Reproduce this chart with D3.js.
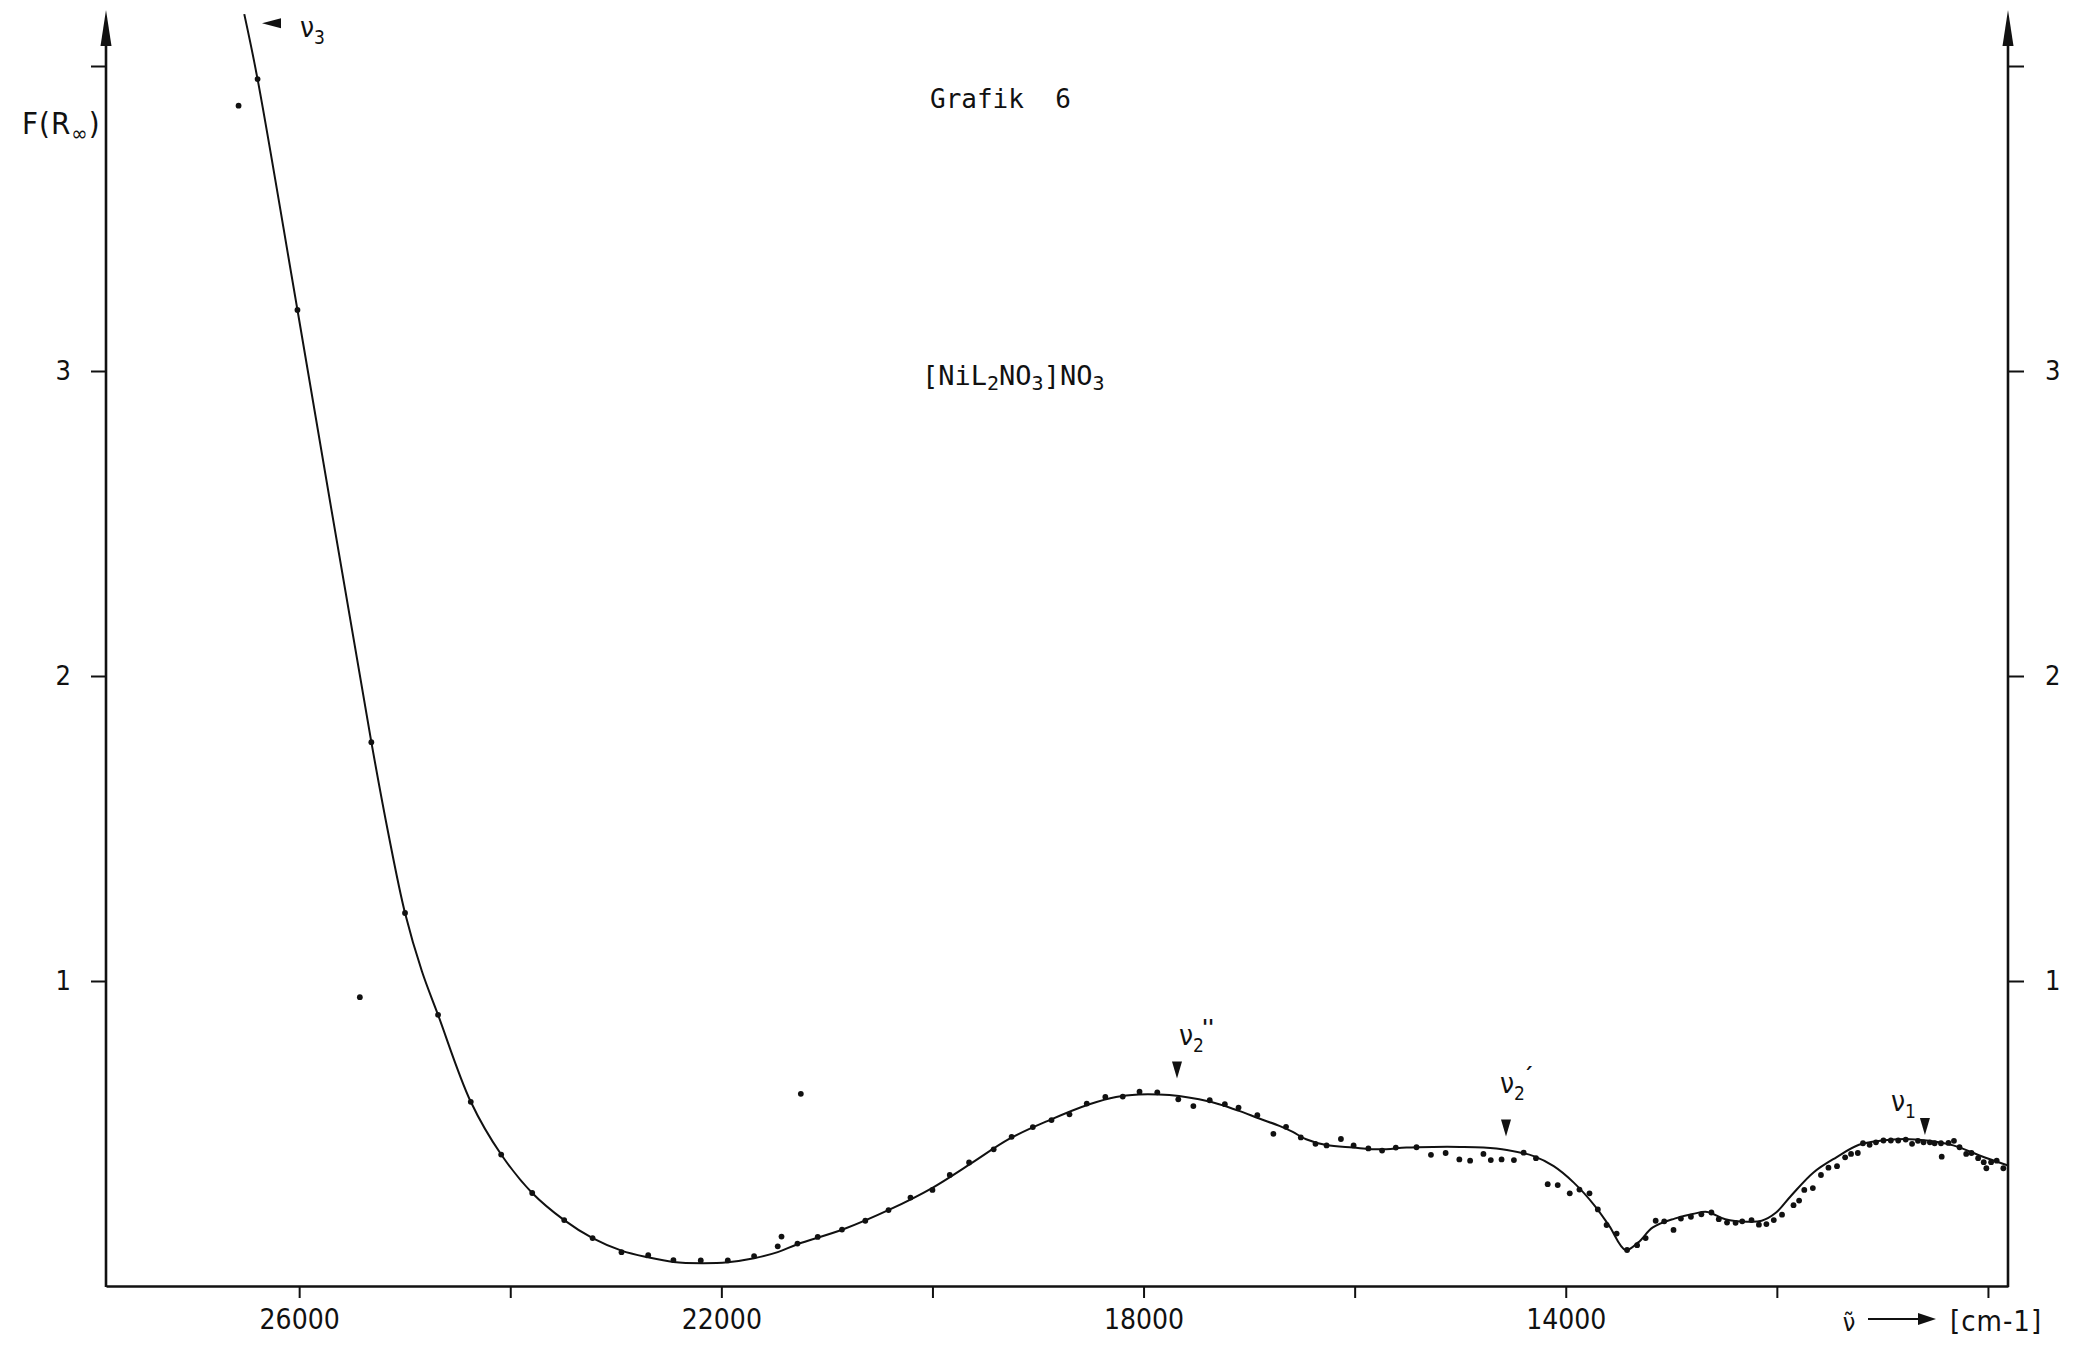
<!DOCTYPE html>
<html>
<head>
<meta charset="utf-8">
<script src="https://cdn.jsdelivr.net/npm/d3@7"></script>
<style>
  body { margin: 0; background: #fff; }
  svg { display: block; background: #fff; }
  .tick text { font-family: "DejaVu Sans Condensed", "DejaVu Sans", sans-serif; font-stretch: condensed; fill: #111; }
  .mono { font-family: "DejaVu Sans Mono", "Liberation Mono", monospace; white-space: pre; fill: #111; }
  .lbl { font-family: "DejaVu Sans Condensed", "DejaVu Sans", sans-serif; font-stretch: condensed; fill: #111; }
</style>
</head>
<body>
<svg id="grafik" width="2074" height="1346"></svg>
<script>
// drawn curve: wavenumber [cm-1] and F(R∞)
const curveWave = [26520, 26394, 26016, 25316, 25157, 24997, 24837, 24684, 24374, 24086,
  23792, 23489, 23220, 22946, 22693, 22454, 22185, 21939, 21690, 21466,
  21279, 20844, 20403, 20000, 19647, 19269, 18891, 18513, 18261, 18045,
  17855, 17664, 17474, 17284, 17094, 16904, 16713, 16586, 16460, 16269,
  16016, 15762, 15509, 15255, 15001, 14780, 14558, 14304, 14114, 13924,
  13725, 13588, 13433, 13313, 13175, 12969, 12797, 12660, 12488, 12282,
  12144, 12007, 11865, 11650, 11436, 11222, 11008, 10793, 10579, 10329,
  10079, 9810];
const curveF = [4.17, 3.957, 3.2, 1.783, 1.487, 1.223, 1.032, 0.889, 0.604, 0.431,
  0.305, 0.216, 0.157, 0.116, 0.094, 0.079, 0.075, 0.078, 0.091, 0.111,
  0.137, 0.186, 0.251, 0.322, 0.399, 0.483, 0.544, 0.596, 0.62, 0.628,
  0.628, 0.623, 0.612, 0.596, 0.574, 0.549, 0.525, 0.505, 0.481, 0.462,
  0.454, 0.448, 0.454, 0.456, 0.456, 0.454, 0.446, 0.426, 0.393, 0.339,
  0.263, 0.197, 0.118, 0.143, 0.192, 0.221, 0.236, 0.243, 0.219, 0.211,
  0.214, 0.241, 0.296, 0.373, 0.422, 0.463, 0.477, 0.482, 0.477, 0.461,
  0.428, 0.395];

// measured points
const pointWave = [26574, 26394, 26016, 25425, 25316, 24997, 24684, 24374, 24086, 23792,
  23489, 23220, 22946, 22693, 22454, 22195, 21939, 21690, 21466, 21430,
  21247, 21279, 21087, 20857, 20636, 20416, 20208, 20000, 19836, 19653,
  19420, 19250, 19049, 18872, 18702, 18538, 18362, 18197, 18038, 17870,
  17671, 17528, 17373, 17230, 17100, 16922, 16770, 16650, 16510, 16371,
  16266, 16130, 16010, 15870, 15740, 15610, 15414, 15277, 15138, 15008,
  14906, 14780, 14710, 14608, 14491, 14399, 14282, 14171, 14076, 13962,
  13870, 13775, 13696, 13613, 13518, 13419, 13324, 13243, 13148, 13067,
  12979, 12909, 12814, 12715, 12620, 12550, 12472, 12391, 12328, 12240,
  12170, 12099, 12029, 11951, 11842, 11789, 11740, 11659, 11582, 11511,
  11430, 11353, 11297, 11233, 11184, 11121, 11061, 10990, 10920, 10850,
  10779, 10719, 10663, 10610, 10550, 10505, 10445, 10438, 10374, 10322,
  10269, 10206, 10156, 10093, 10040, 10015, 9970, 9917, 9854];
const pointF = [3.87, 3.957, 3.2, 0.947, 1.783, 1.223, 0.889, 0.604, 0.431, 0.305,
  0.216, 0.157, 0.111, 0.101, 0.085, 0.084, 0.084, 0.098, 0.13, 0.162,
  0.63, 0.139, 0.161, 0.185, 0.214, 0.249, 0.29, 0.315, 0.364, 0.405,
  0.448, 0.489, 0.521, 0.544, 0.563, 0.598, 0.62, 0.621, 0.637, 0.635,
  0.612, 0.59, 0.609, 0.596, 0.585, 0.56, 0.499, 0.522, 0.487, 0.466,
  0.461, 0.482, 0.461, 0.451, 0.444, 0.454, 0.455, 0.43, 0.436, 0.415,
  0.411, 0.433, 0.413, 0.415, 0.413, 0.437, 0.419, 0.334, 0.331, 0.304,
  0.316, 0.304, 0.251, 0.2, 0.172, 0.118, 0.134, 0.157, 0.214, 0.212,
  0.184, 0.221, 0.227, 0.235, 0.241, 0.219, 0.208, 0.207, 0.212, 0.216,
  0.201, 0.203, 0.216, 0.234, 0.265, 0.28, 0.315, 0.321, 0.364, 0.388,
  0.393, 0.422, 0.433, 0.436, 0.468, 0.463, 0.471, 0.477, 0.477, 0.477,
  0.48, 0.466, 0.476, 0.471, 0.471, 0.468, 0.468, 0.424, 0.469, 0.476,
  0.455, 0.433, 0.436, 0.419, 0.406, 0.386, 0.406, 0.411, 0.386];

// ticks
const xTicks = [26000, 24000, 22000, 20000, 18000, 16000, 14000, 12000, 10000];
const xLabels = [26000, 22000, 18000, 14000];
const yTicks = [1, 2, 3, 4];
const yLabels = [1, 2, 3];

// band markers (arrow tip at wave / F)
const bandSub = ['3', '2', '2', '1'];
const bandMark = ['', "''", '\u00b4', ''];
const bandWave = [26352, 17683, 14566, 10597];
const bandF = [4.14, 0.68, 0.49, 0.495];

const svg = d3.select('svg#grafik');

const xLeft = 106, xRight = 2008, yBase = 1286, yTop = 66;

const x = d3.scaleLinear().domain([27830, 9810]).range([xLeft, xRight]);
const y = d3.scaleLinear().domain([0, 4]).range([yBase, yTop]);

const AXIS_W = 2.6;

// bottom axis
const gx = svg.append('g')
  .attr('transform', `translate(0, ${yBase})`)
  .call(d3.axisBottom(x).tickValues(xTicks).tickSize(12).tickSizeOuter(0).tickPadding(11)
    .tickFormat(d => xLabels.includes(d) ? d : ''));
gx.selectAll('text').attr('font-size', 28);

// left axis
const gl = svg.append('g')
  .attr('transform', `translate(${xLeft}, 0)`)
  .call(d3.axisLeft(y).tickValues(yTicks).tickSize(15).tickSizeOuter(0).tickPadding(20)
    .tickFormat(d => yLabels.includes(d) ? d : ''));
gl.selectAll('text').attr('font-size', 27);

// right axis
const gr = svg.append('g')
  .attr('transform', `translate(${xRight}, 0)`)
  .call(d3.axisRight(y).tickValues(yTicks).tickSize(16).tickSizeOuter(0).tickPadding(21)
    .tickFormat(d => yLabels.includes(d) ? d : ''));
gr.selectAll('text').attr('font-size', 27);

[gl, gr].forEach(g => g.select('.domain').remove());
[gx, gl, gr].forEach(g => {
  g.select('.domain').attr('stroke', '#111').attr('stroke-width', AXIS_W);
  g.selectAll('.tick line').attr('stroke', '#111').attr('stroke-width', 2);
});

// vertical axes with arrow heads
[xLeft, xRight].forEach(ax => {
  svg.append('line')
    .attr('x1', ax).attr('x2', ax)
    .attr('y1', yBase + 1).attr('y2', 40)
    .attr('stroke', '#111').attr('stroke-width', AXIS_W);
  svg.append('path')
    .attr('d', `M${ax},10 L${ax - 5.5},46 L${ax + 5.5},46 Z`)
    .attr('fill', '#111');
});

// curve
const line = d3.line()
  .x((d, i) => x(curveWave[i]))
  .y((d, i) => y(curveF[i]))
  .curve(d3.curveCatmullRom.alpha(0.5));

svg.append('path')
  .datum(curveWave)
  .attr('d', line)
  .attr('fill', 'none')
  .attr('stroke', '#111')
  .attr('stroke-width', 2);

// points
svg.append('g')
  .selectAll('circle')
  .data(pointWave)
  .join('circle')
  .attr('cx', (d, i) => x(pointWave[i]))
  .attr('cy', (d, i) => y(pointF[i]))
  .attr('r', 2.9)
  .attr('fill', '#111');

// band markers
const labelShift = [
  { dx: 38, dy: 14 },
  { dx: 2, dy: -34 },
  { dx: -6, dy: -44 },
  { dx: -34, dy: -24 }
];
bandWave.forEach((w, i) => {
  const px = x(w), py = y(bandF[i]);
  if (i === 0) {
    svg.append('path')
      .attr('d', `M${px},${py} L${px + 19},${py - 5} L${px + 19},${py + 5} Z`)
      .attr('fill', '#111');
  } else {
    svg.append('path')
      .attr('d', `M${px},${py} L${px - 5},${py - 17} L${px + 5},${py - 17} Z`)
      .attr('fill', '#111');
  }
  const t = svg.append('text')
    .attr('class', 'lbl')
    .attr('x', px + labelShift[i].dx)
    .attr('y', py + labelShift[i].dy)
    .attr('font-size', 28);
  t.append('tspan').text('\u03bd');
  t.append('tspan').attr('dy', 7).attr('font-size', 19).text(bandSub[i]);
  if (bandMark[i]) {
    t.append('tspan').attr('dx', -2).attr('dy', -17).attr('font-size', 22)
      .attr('font-weight', 'bold').text(bandMark[i]);
  }
});

// texts
svg.append('text')
  .attr('class', 'mono')
  .attr('x', 930).attr('y', 108)
  .attr('font-size', 26)
  .text('Grafik  6');

const cmp = svg.append('text')
  .attr('class', 'mono')
  .attr('x', 922).attr('y', 385)
  .attr('font-size', 27);
cmp.append('tspan').text('[NiL');
cmp.append('tspan').attr('dy', 5).attr('font-size', 20).text('2');
cmp.append('tspan').attr('dy', -5).text('NO');
cmp.append('tspan').attr('dy', 5).attr('font-size', 20).text('3');
cmp.append('tspan').attr('dy', -5).text(']NO');
cmp.append('tspan').attr('dy', 5).attr('font-size', 20).text('3');

const fr = svg.append('text')
  .attr('class', 'lbl')
  .attr('x', 22).attr('y', 134)
  .attr('font-size', 31)
  .attr('letter-spacing', 1);
fr.append('tspan').text('F(R');
fr.append('tspan').attr('dy', 7).attr('font-size', 22).text('\u221e');
fr.append('tspan').attr('dy', -7).text(')');

// x unit
svg.append('text')
  .attr('class', 'lbl')
  .attr('x', 1849).attr('y', 1331)
  .attr('text-anchor', 'middle')
  .attr('font-size', 25)
  .text('\u03bd\u0303');
svg.append('line')
  .attr('x1', 1868).attr('x2', 1922)
  .attr('y1', 1319).attr('y2', 1319)
  .attr('stroke', '#111').attr('stroke-width', 2);
svg.append('path')
  .attr('d', 'M1936,1319 L1918,1313 L1918,1325 Z')
  .attr('fill', '#111');
svg.append('text')
  .attr('class', 'lbl')
  .attr('x', 1950).attr('y', 1331)
  .attr('font-size', 29)
  .attr('letter-spacing', 1)
  .text('[cm-1]');
</script>
</body>
</html>
